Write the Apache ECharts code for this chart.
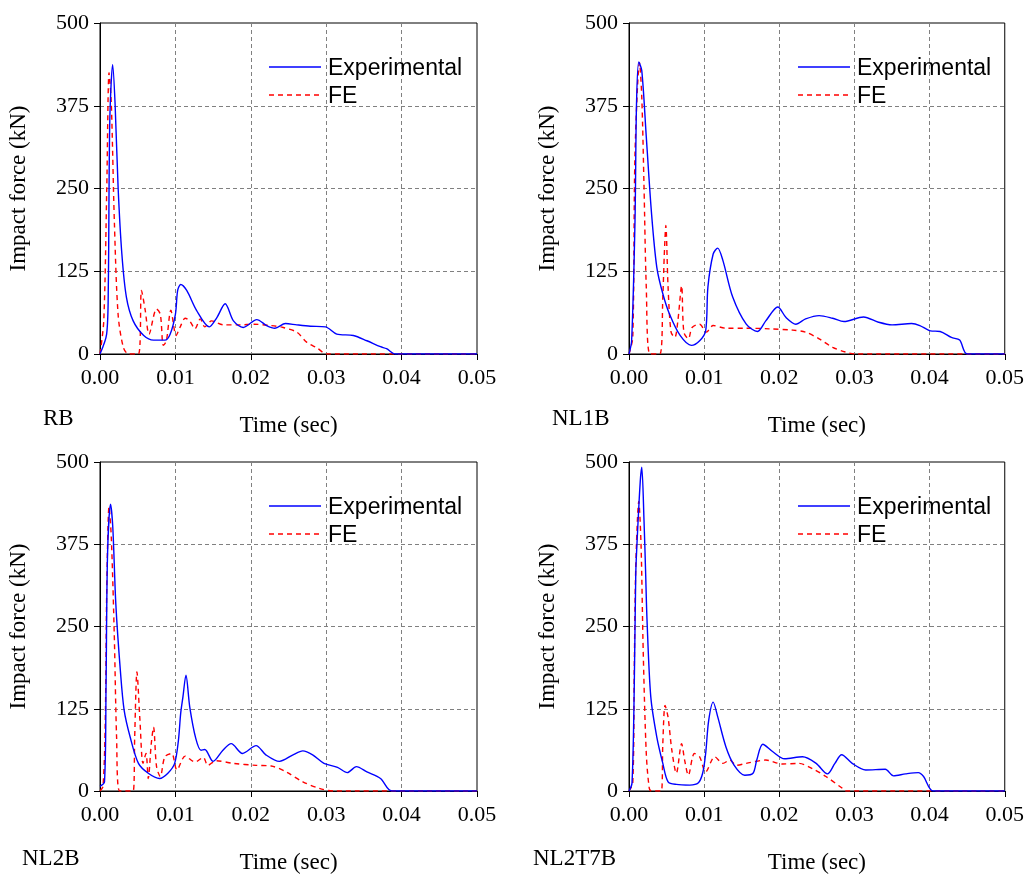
<!DOCTYPE html>
<html>
<head>
<meta charset="utf-8">
<script src="https://cdn.jsdelivr.net/npm/echarts@6/dist/echarts.min.js"></script>
<style>html,body{margin:0;padding:0;background:#fff}#c{width:1027px;height:875px}</style>
</head>
<body>
<div id="c"></div>
<script>
// ---- data: [time (sec), impact force (kN)] ----
const panelNames = ['RB', 'NL1B', 'NL2B', 'NL2T7B'];
const legendNames = ['Experimental', 'FE'];
const xTicks = [0, 0.01, 0.02, 0.03, 0.04, 0.05];
const yTicks = [0, 125, 250, 375, 500];

const rbExp = [[0,0],[0.00088,30],[0.0011,100],[0.0013,353],[0.00168,437],[0.002,378],[0.0024,252],[0.0029,151],[0.0035,86],[0.0044,50],[0.0058,28],[0.0071,21],[0.0086,21],[0.0093,30],[0.01,60],[0.0103,96],[0.0107,105],[0.0115,96],[0.0128,66],[0.0145,41],[0.0155,55],[0.0166,76],[0.0177,50],[0.019,40],[0.0208,52],[0.0221,43],[0.0232,39],[0.0246,46],[0.0261,44],[0.0279,42],[0.0299,41],[0.0314,30],[0.0336,28],[0.0354,20],[0.0372,11],[0.038,8],[0.0392,0],[0.05,0]];
const rbFE = [[0,0],[0.0005,50],[0.0009,252],[0.0012,425],[0.0015,378],[0.0019,202],[0.0024,60],[0.0031,10],[0.0038,0],[0.0051,0],[0.0055,96],[0.006,66],[0.0065,30],[0.0075,68],[0.008,60],[0.0084,13],[0.0088,20],[0.0094,66],[0.0101,28],[0.0106,40],[0.0113,54],[0.0119,50],[0.0126,38],[0.0133,53],[0.0139,41],[0.0148,50],[0.0164,44],[0.0186,44],[0.0204,45],[0.0226,43],[0.0243,40],[0.0261,33],[0.0274,18],[0.0288,9],[0.0301,0],[0.05,0]];

const nl1bExp = [[0,0],[0.00035,20],[0.0008,202],[0.001,378],[0.0013,441],[0.0017,428],[0.0023,328],[0.003,212],[0.0037,131],[0.0045,91],[0.0054,60],[0.0068,28],[0.0083,13],[0.0094,20],[0.0102,35],[0.0105,101],[0.0112,151],[0.0118,160],[0.0125,141],[0.0138,86],[0.0156,45],[0.0171,34],[0.0182,50],[0.0198,71],[0.0209,55],[0.0222,45],[0.0235,53],[0.0253,58],[0.0271,54],[0.0286,49],[0.0312,56],[0.0332,48],[0.035,44],[0.0376,46],[0.0387,43],[0.0401,35],[0.0414,34],[0.0429,25],[0.044,21],[0.045,0],[0.05,0]];
const nl1bFE = [[0,0],[0.0005,25],[0.0008,302],[0.0014,440],[0.0017,388],[0.002,252],[0.0023,101],[0.0028,0],[0.0041,0],[0.0045,86],[0.0047,151],[0.0049,194],[0.0052,101],[0.0056,33],[0.0061,25],[0.0065,50],[0.007,103],[0.0073,33],[0.0079,23],[0.0084,40],[0.0094,45],[0.0103,33],[0.0112,43],[0.0129,39],[0.0156,39],[0.0187,38],[0.0218,36],[0.0235,33],[0.0253,23],[0.0271,10],[0.0288,3],[0.0301,0],[0.05,0]];

const nl2bExp = [[0,7],[0.0006,14],[0.0008,158],[0.001,360],[0.0014,436],[0.0017,400],[0.0021,284],[0.0027,183],[0.0032,123],[0.004,82],[0.0051,42],[0.0064,27],[0.0079,19],[0.009,27],[0.0099,42],[0.0104,77],[0.0107,118],[0.011,143],[0.0114,176],[0.0119,128],[0.0127,80],[0.0134,62],[0.0139,63],[0.015,45],[0.0163,62],[0.0174,72],[0.0189,57],[0.0207,69],[0.022,55],[0.0238,45],[0.0256,55],[0.0269,61],[0.0282,55],[0.0297,42],[0.0315,36],[0.0328,28],[0.034,37],[0.0354,29],[0.0372,19],[0.0387,0],[0.05,0]];
const nl2bFE = [[0,0],[0.0004,7],[0.0007,107],[0.0009,309],[0.0012,432],[0.0015,385],[0.0019,234],[0.0022,82],[0.0026,0],[0.0044,0],[0.0046,82],[0.0049,181],[0.0053,107],[0.0057,42],[0.0061,57],[0.0064,19],[0.0068,72],[0.0071,97],[0.0075,37],[0.008,22],[0.0086,52],[0.0095,57],[0.0102,32],[0.0113,53],[0.0126,44],[0.0137,51],[0.0143,39],[0.0154,46],[0.0177,42],[0.0207,39],[0.0227,38],[0.0247,29],[0.0269,14],[0.0291,4],[0.031,0],[0.05,0]];

const nl2t7bExp = [[0,0],[0.0004,12],[0.0007,158],[0.0009,330],[0.0011,385],[0.0015,471],[0.0017,492],[0.002,410],[0.0022,337],[0.0024,259],[0.0029,143],[0.0037,82],[0.0045,42],[0.0052,14],[0.0063,10],[0.0081,9],[0.0092,12],[0.0098,27],[0.0102,57],[0.0106,107],[0.0112,135],[0.0118,113],[0.0129,67],[0.014,39],[0.0154,24],[0.0165,27],[0.017,47],[0.0178,71],[0.0191,60],[0.0207,49],[0.0231,52],[0.0249,42],[0.0264,26],[0.0274,42],[0.0283,55],[0.0297,42],[0.0315,32],[0.0341,33],[0.0352,23],[0.0368,26],[0.0385,28],[0.0392,22],[0.0405,0],[0.05,0]];
const nl2t7bFE = [[0,0],[0.0005,12],[0.0007,183],[0.0009,340],[0.0013,440],[0.0016,375],[0.0019,208],[0.0023,57],[0.0027,4],[0.003,0],[0.0043,0],[0.0045,72],[0.0048,130],[0.0052,112],[0.0057,62],[0.0063,27],[0.007,72],[0.0074,47],[0.0079,24],[0.0087,57],[0.0094,52],[0.0102,29],[0.0114,52],[0.0125,42],[0.0134,47],[0.0143,39],[0.0156,42],[0.0182,47],[0.0204,41],[0.0226,42],[0.0244,34],[0.0262,22],[0.0284,4],[0.0288,0],[0.05,0]];

const expData = [rbExp, nl1bExp, nl2bExp, nl2t7bExp];
const feData = [rbFE, nl1bFE, nl2bFE, nl2t7bFE];

// ---- layout ----
const serif = 'Liberation Serif';
const grids = [
  {left: 100, top: 23},
  {left: 629, top: 23},
  {left: 100, top: 462},
  {left: 629, top: 462}
];
const GW = 377, GH = 331;
const panelLabelPos = [[43, 419], [552, 419], [22, 859], [533, 859]];
const BLUE = '#0000ff', RED = '#ff0000';

const option = {
  animation: false,
  backgroundColor: '#fff',
  grid: [], xAxis: [], yAxis: [], series: [], graphic: []
};

grids.forEach((g, i) => {
  option.grid.push({left: g.left, top: g.top, width: GW, height: GH, show: true,
    borderColor: '#000', borderWidth: 1, backgroundColor: 'transparent', containLabel: false});
  option.xAxis.push({
    type: 'value', gridIndex: i, min: xTicks[0], max: xTicks[xTicks.length - 1], interval: 0.01,
    name: 'Time (sec)', nameLocation: 'middle', nameGap: 60,
    nameTextStyle: {fontFamily: serif, fontSize: 23, color: '#000'},
    axisLine: {show: true, lineStyle: {color: '#000', width: 1}},
    axisTick: {show: true, inside: false, length: 6, lineStyle: {color: '#000'}},
    axisLabel: {fontFamily: serif, fontSize: 22, color: '#000', margin: 13, formatter: v => v.toFixed(2)},
    splitLine: {show: true, showMinLine: false, showMaxLine: false, lineStyle: {color: '#808080', type: [4, 3], width: 1}}
  });
  option.yAxis.push({
    type: 'value', gridIndex: i, min: yTicks[0], max: yTicks[yTicks.length - 1], interval: 125,
    name: 'Impact force (kN)', nameLocation: 'middle', nameGap: 70, nameRotate: 90,
    nameTextStyle: {fontFamily: serif, fontSize: 23, color: '#000'},
    axisLine: {show: true, lineStyle: {color: '#000', width: 1}},
    axisTick: {show: true, inside: false, length: 6, lineStyle: {color: '#000'}},
    axisLabel: {fontFamily: serif, fontSize: 22, color: '#000', margin: 11},
    splitLine: {show: true, showMinLine: false, showMaxLine: false, lineStyle: {color: '#808080', type: [4, 3], width: 1}}
  });
  option.series.push({
    name: legendNames[0], type: 'line', xAxisIndex: i, yAxisIndex: i,
    data: expData[i], showSymbol: false, symbol: 'none', smooth: 0.3, z: 3,
    lineStyle: {color: BLUE, width: 1.4}, itemStyle: {color: BLUE}
  });
  option.series.push({
    name: legendNames[1], type: 'line', xAxisIndex: i, yAxisIndex: i,
    data: feData[i], showSymbol: false, symbol: 'none', smooth: 0.3, z: 2,
    lineStyle: {color: RED, width: 1.4, type: [5, 4]}, itemStyle: {color: RED}
  });
  // legend (drawn as graphics for exact look)
  const ly = [g.top + 44, g.top + 72];
  [BLUE, RED].forEach((col, k) => {
    option.graphic.push({
      type: 'line', shape: {x1: g.left + 169, y1: ly[k], x2: g.left + 221, y2: ly[k]},
      style: {stroke: col, lineWidth: 1.4, lineDash: k === 1 ? [5, 4] : null}
    });
    option.graphic.push({
      type: 'text', x: g.left + 228, y: ly[k] + 2,
      style: {text: legendNames[k], font: '23px "Liberation Sans"', fill: '#000', textVerticalAlign: 'middle', textAlign: 'left'}
    });
  });
  option.graphic.push({
    type: 'text', x: panelLabelPos[i][0], y: panelLabelPos[i][1],
    style: {text: panelNames[i], font: '23px "Liberation Serif"', fill: '#000', textVerticalAlign: 'middle'}
  });
});

const chart = echarts.init(document.getElementById('c'), null, {renderer: 'canvas'});
chart.setOption(option);
</script>
</body>
</html>
